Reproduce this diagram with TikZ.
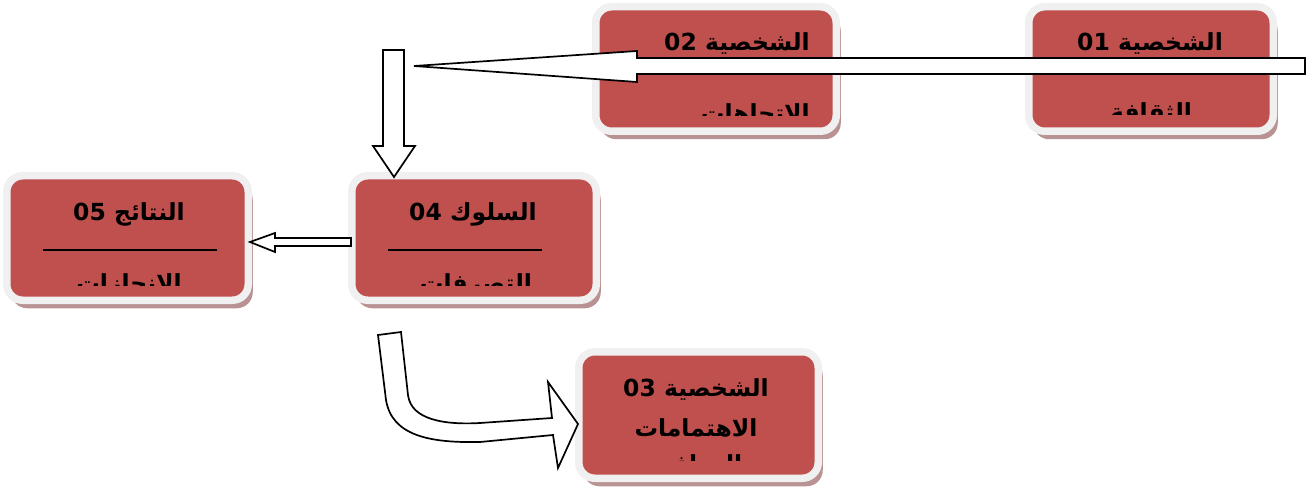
\documentclass[tikz,border=0pt]{standalone}
\usepackage{fontspec}
\newfontfamily\arabicfont[Script=Arabic]{DejaVu Sans}
\TeXXeTstate=1
\usetikzlibrary{shadows,calc,positioning}

\definecolor{boxred}{HTML}{C0504D}
\definecolor{framegray}{HTML}{F0F0F0}
\definecolor{shadowred}{HTML}{B99393}

\newcommand{\titletext}[2]{\arabicfont\bfseries\beginR #1 \beginL#2\endL\endR}
\newcommand{\subtext}[1]{\arabicfont\bfseries\beginR #1\endR}

\begin{document}
\begin{tikzpicture}[x=1pt,y=-1pt,
  card/.style={fill=boxred, draw=framegray, line width=7.5pt, rounded corners=16pt,
    minimum width=#1, minimum height=124.5pt, inner sep=0pt,
    general shadow={fill=shadowred, shadow xshift=4.5pt, shadow yshift=-8pt}},
  title/.style={font=\fontsize{23.5}{28}\selectfont, inner sep=0pt},
  blockarrow/.style={draw=black, fill=white, line width=1.7pt, line join=miter}]
\useasboundingbox (0,0) rectangle (1306,489);

% boxes
\node[card=244.5pt] (p1) at (1151,69) {};
\node[card=240.5pt] (p2) at (716,69) {};
\node[card=241.5pt] (res) at (127.5,238) {};
\node[card=244.5pt] (beh) at (474,238) {};
\node[card=239.5pt, minimum height=126.5pt] (p3) at (698.5,415) {};

% titles
\node[title] (p1t) at (1150,44) {\titletext{الشخصية}{01}};
\node[title, anchor=east] (p2t) at (810,44) {\titletext{الشخصية}{02}};
\node[title] (rest) at (129,214) {\titletext{النتائج}{05}};
\node[title] (beht) at (473,214) {\titletext{السلوك}{04}};
\node[title] (p3t) at (696,390) {\titletext{الشخصية}{03}};
\node[title] (p3s) at (696,428) {\subtext{الاهتمامات}};

\draw[line width=1.5pt] (43,250) -- (217,250);
\draw[line width=1.5pt] (388,250) -- (542,250);

% second lines, cut by the text frame
\begin{scope}
\clip (1030,90) rectangle (1275,115);
\node[title, anchor=base] (p1s) at (1151,121) {\subtext{الثقافة}};
\end{scope}
\begin{scope}
\clip (598,90) rectangle (838,116);
\node[title, anchor=base east] (p2s) at (810,122) {\subtext{الاتجاهات}};
\end{scope}
\begin{scope}
\clip (10,262) rectangle (248,285);
\node[title, anchor=base] (ress) at (129,291) {\subtext{الإنجازات}};
\end{scope}
\begin{scope}
\clip (355,262) rectangle (592,285);
\node[title, anchor=base] (behs) at (476,291) {\subtext{التصرفات}};
\end{scope}
\begin{scope}
\clip (580,445) rectangle (815,460);
\node[title, anchor=base] (p3x) at (700,472) {\subtext{الدوافع}};
\end{scope}

% arrows
\coordinate (in1) at (1305,66);
\coordinate (out1) at (414,66);
\draw[blockarrow] ($(in1)+(0,-8)$) -- (637,58) -- (637,51) -- (out1)
  -- (637,82) -- (637,74) -- ($(in1)+(0,8)$) -- cycle;

\coordinate (in2) at (394,50);
\coordinate (out2) at (394,177);
\draw[blockarrow] ($(in2)+(-11,0)$) -- ($(in2)+(10,0)$) -- (404,146) -- (415,146)
  -- (out2) -- (373,146) -- (383,146) -- cycle;

\coordinate (in3) at (351,242);
\coordinate (out3) at (250,242);
\draw[blockarrow] ($(in3)+(0,-4)$) -- (275,238) -- (275,233) -- (out3)
  -- (275,252) -- (275,246) -- ($(in3)+(0,4)$) -- cycle;

\coordinate (in4) at (390,334);
\coordinate (out4) at (578,424);
\draw[blockarrow] (378,335) -- (386,400) .. controls (392,436) and (430,443) .. (480,442)
  -- (553,435) -- (558,468) -- (out4) -- (548,382) -- (552,418) -- (480,423)
  .. controls (445,425) and (411,420) .. (408,395) -- (401,332) -- cycle;
\end{tikzpicture}
\end{document}
